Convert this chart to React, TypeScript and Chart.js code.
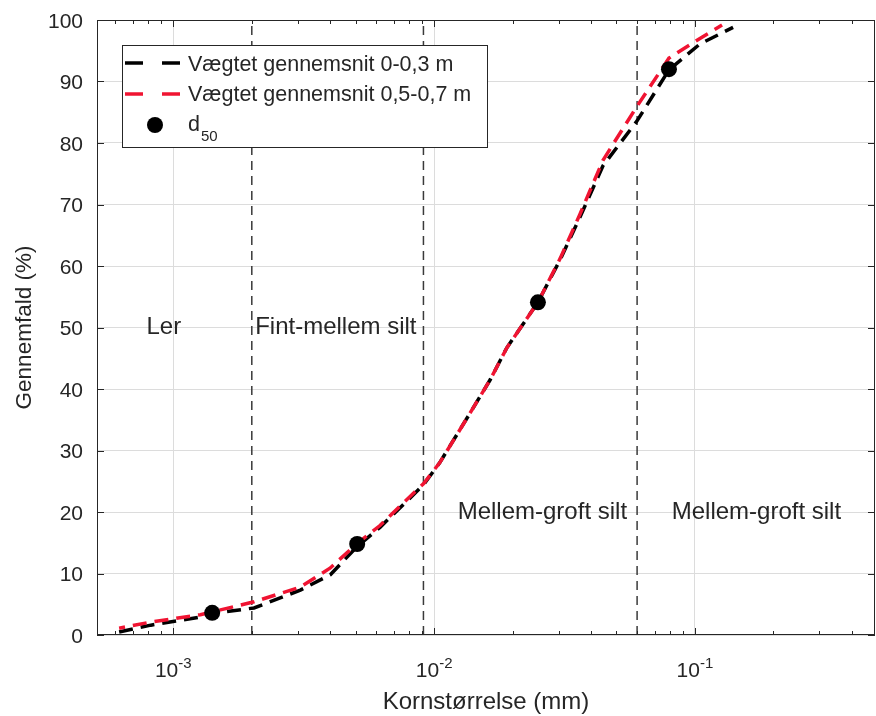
import { useEffect, useRef } from "react";
import { Chart, registerables } from "chart.js";

Chart.register(...registerables);

// ---- data ----
const topSize = [6.2e-4, 8.2e-4, 1.27e-3, 1.41e-3, 2.04e-3, 3.07e-3, 4.0e-3, 5.07e-3, 6.2e-3, 9.1e-3, 0.0105, 0.0137, 0.0164, 0.019, 0.025, 0.0304, 0.0363, 0.0444, 0.06, 0.0795, 0.1045, 0.14];
const topPass = [0.5, 1.6, 2.9, 3.5, 4.4, 7.3, 9.8, 14.4, 17.5, 24.4, 28, 36, 41.5, 46.7, 54.1, 61, 68, 76.3, 83.6, 91.9, 96.1, 98.8];
const deepSize = [6.2e-4, 8.2e-4, 1.27e-3, 2.04e-3, 3.07e-3, 4.0e-3, 5.07e-3, 6.2e-3, 9.1e-3, 0.0105, 0.0137, 0.0164, 0.019, 0.025, 0.0304, 0.0363, 0.0444, 0.06, 0.0795, 0.1045, 0.127];
const deepPass = [1.1, 2.1, 3.3, 5.4, 7.8, 10.9, 14.9, 17.8, 24.6, 28, 36, 41.5, 46.7, 54.1, 61.2, 68.5, 77.2, 86, 93.8, 97, 99.2];
const d50Size = [0.00141, 0.00507, 0.025, 0.0795];
const d50Pass = [3.6, 14.8, 54.1, 92.0];
const boundarySizes = [0.002, 0.0091, 0.06];

const xMajorTicks = [1e-3, 1e-2, 1e-1];
const xTickBase = "10";
const xTickExponents = ["-3", "-2", "-1"];
const yTickStep = 10;

const regionLabels = ["Ler", "Fint-mellem silt", "Mellem-groft silt", "Mellem-groft silt"];
const regionSize = [9.2e-4, 4.2e-3, 0.026, 0.172];
const regionPass = [50, 50, 20, 20];

const legendLabels = ["Vægtet gennemsnit 0-0,3 m", "Vægtet gennemsnit 0,5-0,7 m"];
const markerLabel = "d";
const markerSub = "50";
const xTitle = "Kornstørrelse (mm)";
const yTitle = "Gennemfald (%)";

const FONT = "'Liberation Sans', Arial, Helvetica, sans-serif";
const TEXT = "#262626";
const BLACK = "#000000";
const RED = "#f01432";

const pts = (xs: number[], ys: number[]) => xs.map((v, i) => ({ x: v, y: ys[i] }));

const decorPlugin = {
  id: "decor",
  afterDraw(chart: any) {
    const { ctx, chartArea: ca, scales } = chart;
    const x = scales.x;
    const y = scales.y;
    ctx.save();
    // box
    ctx.strokeStyle = TEXT;
    ctx.lineWidth = 1;
    ctx.setLineDash([]);
    ctx.strokeRect(ca.left + 0.5, ca.top + 0.5, ca.right - ca.left - 1, ca.bottom - ca.top - 1);
    // y ticks (inward, left & right)
    ctx.beginPath();
    for (let v = 0; v <= 100; v += yTickStep) {
      const py = Math.round(y.getPixelForValue(v)) + 0.5;
      ctx.moveTo(ca.left, py);
      ctx.lineTo(ca.left + 7, py);
      ctx.moveTo(ca.right - 7, py);
      ctx.lineTo(ca.right, py);
    }
    // x ticks (major + minor, bottom & top)
    for (let d = -4; d <= 0; d++) {
      for (let m = 1; m <= 9; m++) {
        const v = m * Math.pow(10, d);
        if (v < x.min || v > x.max) continue;
        const px = Math.round(x.getPixelForValue(v)) + 0.5;
        const len = m === 1 ? 7 : 4;
        ctx.moveTo(px, ca.bottom);
        ctx.lineTo(px, ca.bottom - len);
        ctx.moveTo(px, ca.top);
        ctx.lineTo(px, ca.top + len);
      }
    }
    ctx.stroke();

    // x tick labels with superscripts
    ctx.fillStyle = TEXT;
    ctx.textBaseline = "alphabetic";
    ctx.textAlign = "left";
    xMajorTicks.forEach((v, i) => {
      const px = x.getPixelForValue(v);
      ctx.font = `21px ${FONT}`;
      const wb = ctx.measureText(xTickBase).width;
      ctx.font = `15px ${FONT}`;
      const we = ctx.measureText(xTickExponents[i]).width;
      const left = px - (wb + we) / 2;
      ctx.font = `21px ${FONT}`;
      ctx.fillText(xTickBase, left, ca.bottom + 42);
      ctx.font = `15px ${FONT}`;
      ctx.fillText(xTickExponents[i], left + wb, ca.bottom + 33);
    });

    // axis titles
    ctx.font = `24px ${FONT}`;
    ctx.textAlign = "center";
    ctx.fillText(xTitle, (ca.left + ca.right) / 2, ca.bottom + 74);
    ctx.save();
    ctx.font = `22.5px ${FONT}`;
    ctx.translate(31, (ca.top + ca.bottom) / 2);
    ctx.rotate(-Math.PI / 2);
    ctx.fillText(yTitle, 0, 0);
    ctx.restore();

    // region labels
    ctx.font = `24px ${FONT}`;
    ctx.textAlign = "center";
    ctx.textBaseline = "middle";
    regionLabels.forEach((t, i) => {
      ctx.fillText(t, x.getPixelForValue(regionSize[i]), y.getPixelForValue(regionPass[i]));
    });

    // legend
    const lx = ca.left + 25;
    const ly = ca.top + 25;
    const lw = 365;
    const lh = 102;
    ctx.fillStyle = "#ffffff";
    ctx.fillRect(lx, ly, lw, lh);
    ctx.strokeStyle = TEXT;
    ctx.lineWidth = 1;
    ctx.strokeRect(lx + 0.5, ly + 0.5, lw, lh);
    const rows = [ly + 18, ly + 49];
    const cols = [BLACK, RED];
    cols.forEach((c, i) => {
      ctx.strokeStyle = c;
      ctx.lineWidth = 3.5;
      ctx.beginPath();
      ctx.moveTo(lx + 3, rows[i]);
      ctx.lineTo(lx + 21, rows[i]);
      ctx.moveTo(lx + 40, rows[i]);
      ctx.lineTo(lx + 58, rows[i]);
      ctx.stroke();
    });
    ctx.fillStyle = BLACK;
    ctx.beginPath();
    ctx.arc(lx + 33, ly + 80, 8, 0, Math.PI * 2);
    ctx.fill();
    ctx.fillStyle = TEXT;
    ctx.textAlign = "left";
    ctx.textBaseline = "alphabetic";
    ctx.font = `21.5px ${FONT}`;
    ctx.fillText(legendLabels[0], lx + 66, ly + 26);
    ctx.fillText(legendLabels[1], lx + 66, ly + 56);
    ctx.fillText(markerLabel, lx + 66, ly + 86);
    const wd = ctx.measureText(markerLabel).width;
    ctx.font = `15px ${FONT}`;
    ctx.fillText(markerSub, lx + 66 + wd + 1, ly + 96);
    ctx.restore();
  },
};

export default function App() {
  const ref = useRef<HTMLCanvasElement | null>(null);
  useEffect(() => {
    if (!ref.current) return;
    Chart.defaults.font.family = FONT;
    const boundaryDatasets = boundarySizes.map((b) => ({
      data: [{ x: b, y: 0 }, { x: b, y: 100 }],
      borderColor: "#3a3a3a",
      borderWidth: 1.5,
      borderDash: [9, 6],
      pointRadius: 0,
      order: 4,
    }));
    const chart = new Chart(ref.current, {
      type: "line",
      data: {
        datasets: [
          {
            data: pts(d50Size, d50Pass),
            showLine: false,
            pointRadius: 8,
            pointBackgroundColor: BLACK,
            pointBorderColor: BLACK,
            pointBorderWidth: 0,
            order: 0,
          },
          {
            data: pts(deepSize, deepPass),
            borderColor: RED,
            borderWidth: 3.5,
            borderDash: [14, 8],
            borderDashOffset: 8,
            pointRadius: 0,
            tension: 0,
            order: 1,
          },
          {
            data: pts(topSize, topPass),
            borderColor: BLACK,
            borderWidth: 3.5,
            borderDash: [14, 8],
            pointRadius: 0,
            tension: 0,
            order: 2,
          },
          ...boundaryDatasets,
        ] as any,
      },
      options: {
        responsive: false,
        animation: false,
        events: [],
        layout: { autoPadding: false, padding: { left: 0, top: 20, right: 1, bottom: 0 } },
        plugins: { legend: { display: false }, tooltip: { enabled: false } },
        scales: {
          x: {
            type: "logarithmic",
            min: 5.1e-4,
            max: 0.49,
            afterBuildTicks: (s: any) => {
              s.ticks = xMajorTicks.map((v) => ({ value: v, major: true }));
            },
            afterFit: (s: any) => {
              s.height = 81;
              s.paddingLeft = 0;
              s.paddingRight = 0;
              s.paddingTop = 0;
              s.paddingBottom = 0;
            },
            ticks: { display: false },
            grid: { color: "#dcdcdc", lineWidth: 1, drawTicks: false },
            border: { display: false },
          },
          y: {
            type: "linear",
            min: 0,
            max: 100,
            afterFit: (s: any) => {
              s.width = 97;
              s.paddingTop = 0;
              s.paddingBottom = 0;
              s.paddingLeft = 0;
              s.paddingRight = 0;
            },
            ticks: {
              stepSize: yTickStep,
              color: TEXT,
              font: { size: 21, family: FONT },
              padding: 14,
              labelOffset: 2,
            },
            grid: { color: "#dcdcdc", lineWidth: 1, drawTicks: false },
            border: { display: false },
          },
        },
      } as any,
      plugins: [decorPlugin],
    });
    return () => chart.destroy();
  }, []);
  return (
    <div style={{ position: "absolute", left: 0, top: 0, width: 876, height: 716, background: "#fff" }}>
      <canvas ref={ref} width={876} height={716} style={{ display: "block" }} />
    </div>
  );
}
